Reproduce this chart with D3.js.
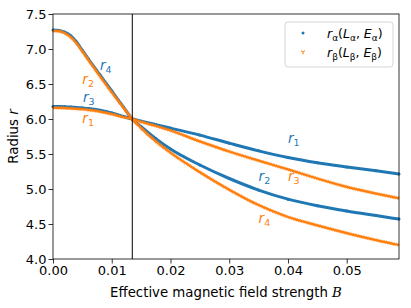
<!DOCTYPE html>
<html>
<head>
<meta charset="utf-8">
<script src="https://cdn.jsdelivr.net/npm/d3@7"></script>
<style>
  body { margin: 0; background: #fff; }
  svg { font-family: "DejaVu Sans", sans-serif; }
</style>
</head>
<body>
<div id="chart"></div>
<script>
// Campo magnético efectivo (eje x)
const fieldB = [0, 0.001, 0.002, 0.003, 0.004, 0.005, 0.006, 0.008, 0.010, 0.012, 0.0135,
                0.015, 0.0175, 0.020, 0.025, 0.030, 0.035, 0.040, 0.045, 0.050, 0.055, 0.0589]

// Serie alfa (azul)
const alphaSteep = [7.27, 7.265, 7.24, 7.19, 7.10, 6.98, 6.86, 6.63, 6.40, 6.17, 6.00,
                    5.89, 5.72, 5.57, 5.343, 5.15, 4.985, 4.855, 4.76, 4.685, 4.62, 4.57]
const alphaFlat = [6.18, 6.179, 6.176, 6.172, 6.166, 6.158, 6.15, 6.125, 6.087, 6.035, 6.00,
                   5.97, 5.92, 5.87, 5.77, 5.655, 5.545, 5.45, 5.375, 5.315, 5.26, 5.215]

// Serie beta (naranja)
const betaSteep = [7.26, 7.255, 7.225, 7.17, 7.08, 6.965, 6.845, 6.61, 6.38, 6.16, 6.00,
                   5.87, 5.68, 5.52, 5.24, 4.99, 4.77, 4.60, 4.48, 4.37, 4.27, 4.20]
const betaFlat = [6.16, 6.159, 6.156, 6.152, 6.146, 6.139, 6.13, 6.105, 6.07, 6.025, 6.00,
                  5.96, 5.90, 5.835, 5.68, 5.535, 5.405, 5.28, 5.15, 5.03, 4.935, 4.867]

const crossingB = 0.0135
const xTicks = [0, 0.01, 0.02, 0.03, 0.04, 0.05]
const yTicks = [4.0, 4.5, 5.0, 5.5, 6.0, 6.5, 7.0, 7.5]

// Etiquetas r_i
const curveLabels = [
  { color: "blue", sub: "4", b: 0.0080, r: 6.70 },
  { color: "orange", sub: "2", b: 0.0050, r: 6.50 },
  { color: "blue", sub: "3", b: 0.0051, r: 6.24 },
  { color: "orange", sub: "1", b: 0.0050, r: 5.95 },
  { color: "blue", sub: "1", b: 0.0400, r: 5.66 },
  { color: "blue", sub: "2", b: 0.0350, r: 5.11 },
  { color: "orange", sub: "3", b: 0.0400, r: 5.11 },
  { color: "orange", sub: "4", b: 0.0350, r: 4.51 }
]

const width = 411, height = 308
const blue = "#1f77b4", orange = "#ff7f0e"

const svg = d3.select("#chart").append("svg")
  .attr("width", width)
  .attr("height", height)

const x = d3.scaleLinear().domain([0, 0.0589]).range([53, 399])
const y = d3.scaleLinear().domain([4, 7.5]).range([259, 14])

const line = d3.line()
  .x(d => x(d[0]))
  .y(d => y(d[1]))
  .curve(d3.curveMonotoneX)

const plot = svg.append("g")

function drawSeries(values, color, isBeta) {
  const pts = fieldB.map((b, i) => [b, values[i]])
  if (isBeta) {
    plot.append("path").datum(pts)
      .attr("d", line).attr("fill", "none")
      .attr("stroke", color).attr("stroke-width", 2.2)
    // textura de marcadores densos
    plot.append("path").datum(pts)
      .attr("d", line).attr("fill", "none")
      .attr("stroke", color).attr("stroke-width", 3.6)
      .attr("stroke-dasharray", "0.8,0.9").attr("stroke-opacity", 0.75)
  } else {
    plot.append("path").datum(pts)
      .attr("d", line).attr("fill", "none")
      .attr("stroke", color).attr("stroke-width", 3)
    plot.append("g").selectAll("circle")
      .data(pts).join("circle")
      .attr("cx", d => x(d[0])).attr("cy", d => y(d[1]))
      .attr("r", 1.5).attr("fill", color)
  }
}

drawSeries(alphaSteep, blue, false)
drawSeries(alphaFlat, blue, false)
drawSeries(betaSteep, orange, true)
drawSeries(betaFlat, orange, true)

// Línea vertical del cruce
svg.append("line")
  .attr("x1", x(crossingB)).attr("x2", x(crossingB))
  .attr("y1", y(7.5)).attr("y2", y(4))
  .attr("stroke", "#000").attr("stroke-width", 1)

// Etiquetas de curvas
curveLabels.forEach(l => {
  const t = svg.append("text")
    .attr("x", x(l.b)).attr("y", y(l.r))
    .attr("fill", l.color === "blue" ? blue : orange)
    .attr("font-size", 13.5)
  t.append("tspan").attr("font-style", "italic").text("r")
  t.append("tspan").attr("font-size", 9.5).attr("dy", 3).text(l.sub)
})

// Ejes
const xAxis = svg.append("g")
  .attr("transform", `translate(0,${y(4)})`)
  .call(d3.axisBottom(x).tickValues(xTicks).tickFormat(d3.format(".2f")).tickSize(4.5).tickPadding(2))
const yAxis = svg.append("g")
  .attr("transform", `translate(${x(0)},0)`)
  .call(d3.axisLeft(y).tickValues(yTicks).tickFormat(d3.format(".1f")).tickSize(4.5).tickPadding(2))

;[xAxis, yAxis].forEach(a => {
  a.select(".domain").remove()
  a.selectAll("line").attr("stroke", "#000").attr("stroke-width", 0.8)
  a.selectAll("text").attr("font-size", 13).attr("fill", "#000").attr("font-family", "DejaVu Sans")
})

// Marco
svg.append("rect")
  .attr("x", x(0)).attr("y", y(7.5))
  .attr("width", x(0.0589) - x(0)).attr("height", y(4) - y(7.5))
  .attr("fill", "none").attr("stroke", "#000").attr("stroke-width", 0.8)

// Títulos de ejes
const xl = svg.append("text")
  .attr("x", (x(0) + x(0.0589)) / 2).attr("y", 297)
  .attr("text-anchor", "middle").attr("font-size", 13.3)
xl.append("tspan").text("Effective magnetic field strength ")
xl.append("tspan").attr("font-style", "italic").attr("font-family", "DejaVu Serif").text("B")

const yl = svg.append("text")
  .attr("transform", `translate(18,${(y(4) + y(7.5)) / 2}) rotate(-90)`)
  .attr("text-anchor", "middle").attr("font-size", 13.3)
yl.append("tspan").text("Radius ")
yl.append("tspan").attr("font-style", "italic").text("r")

// Leyenda
const legend = svg.append("g").attr("transform", "translate(285,22)")
legend.append("rect")
  .attr("width", 108).attr("height", 45).attr("rx", 3)
  .attr("fill", "#fff").attr("fill-opacity", 0.8)
  .attr("stroke", "#ccc").attr("stroke-width", 0.8)

const entries = [
  { color: blue, g: "α", beta: false },
  { color: orange, g: "β", beta: true }
]
entries.forEach((e, i) => {
  const cy = 11 + i * 19
  if (e.beta) {
    legend.append("path")
      .attr("d", `M${18},${cy} v2.5 M${18},${cy} l-2,-1.5 M${18},${cy} l2,-1.5`)
      .attr("stroke", e.color).attr("stroke-width", 1).attr("fill", "none")
  } else {
    legend.append("circle").attr("cx", 18).attr("cy", cy).attr("r", 1.5).attr("fill", e.color)
  }
  const t = legend.append("text").attr("x", 42).attr("y", cy + 5).attr("font-size", 12.5)
  t.append("tspan").attr("font-style", "italic").text("r")
  t.append("tspan").attr("font-size", 9).attr("dy", 3).text(e.g)
  t.append("tspan").attr("dy", -3).text("(")
  t.append("tspan").attr("font-style", "italic").text("L")
  t.append("tspan").attr("font-size", 9).attr("dy", 3).text(e.g)
  t.append("tspan").attr("dy", -3).text(", ")
  t.append("tspan").attr("font-style", "italic").text("E")
  t.append("tspan").attr("font-size", 9).attr("dy", 3).text(e.g)
  t.append("tspan").attr("dy", -3).text(")")
})
</script>
</body>
</html>
